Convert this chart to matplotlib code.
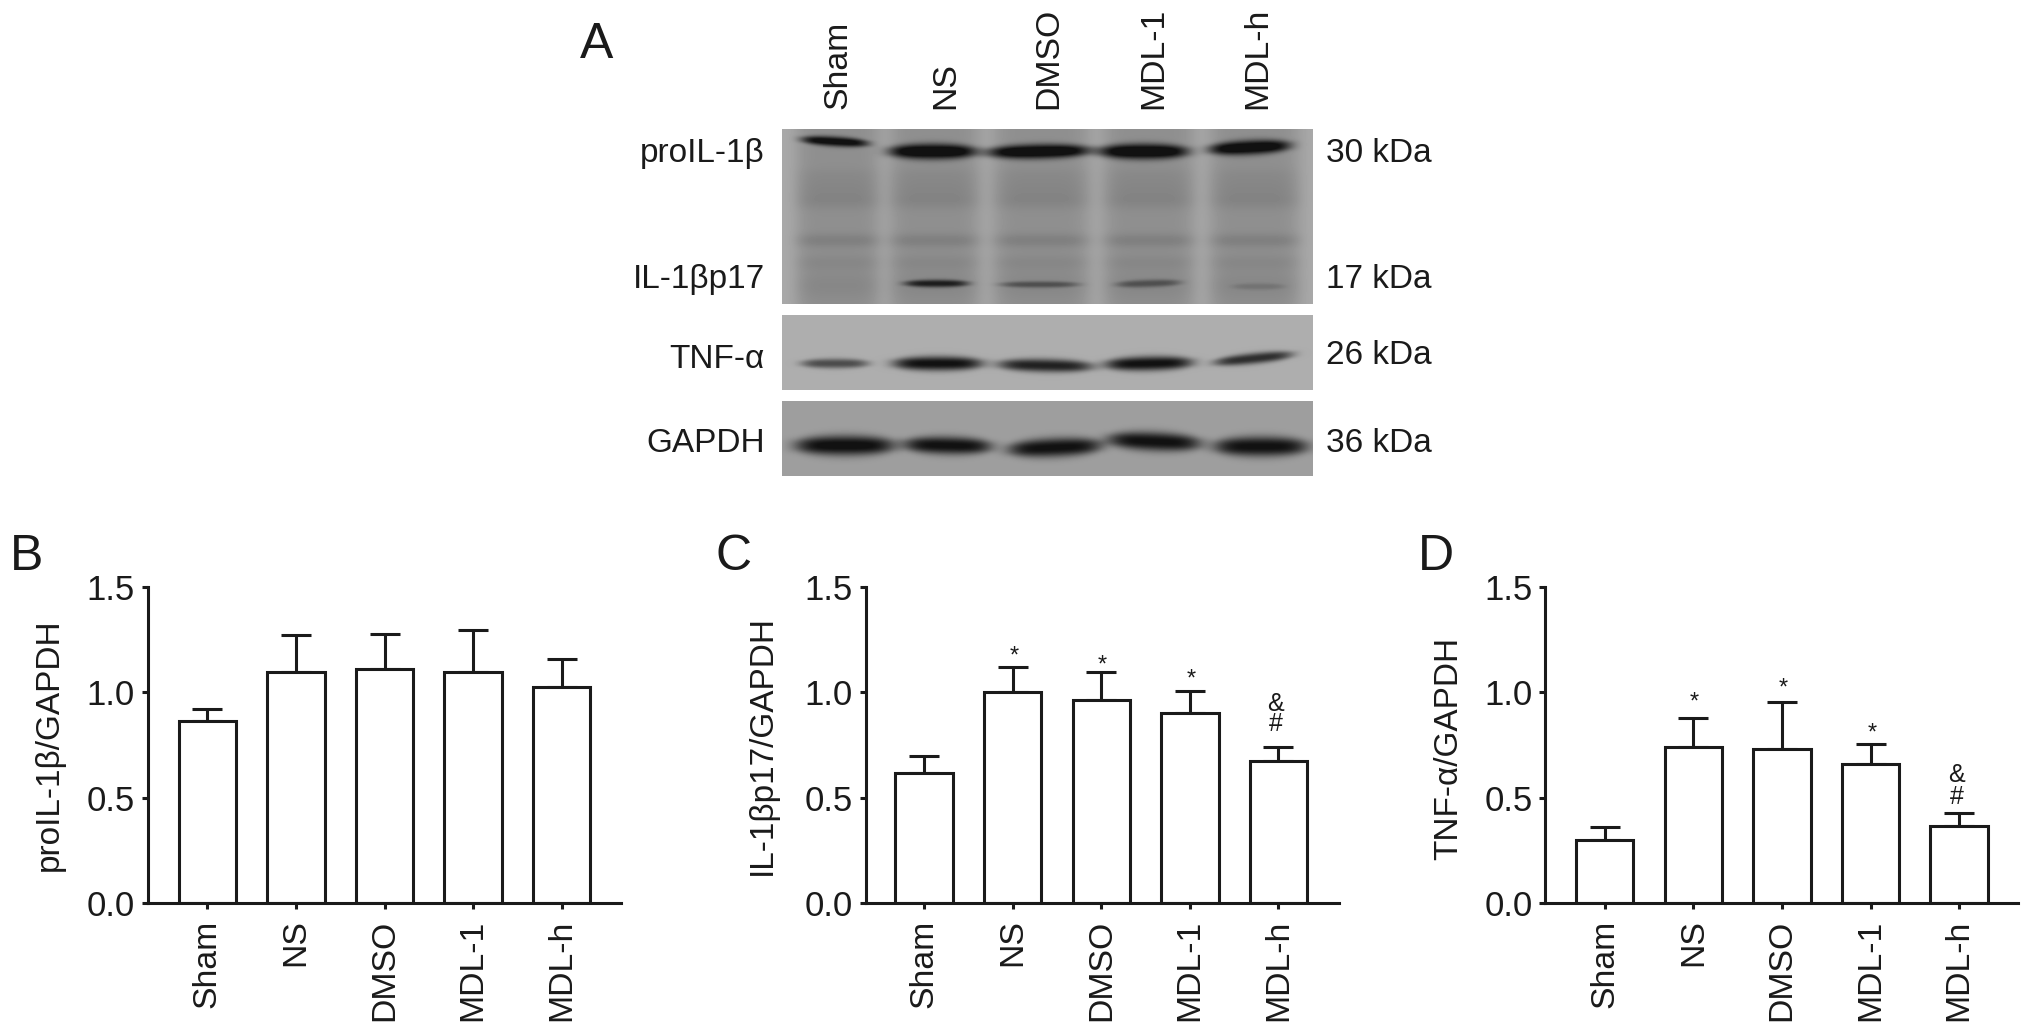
import numpy as np
import matplotlib
matplotlib.use("Agg")
import matplotlib.pyplot as plt

plt.rcParams['font.family'] = ['Liberation Sans', 'DejaVu Sans']
W, H = 2032, 1030
TXT = '#1a1a1a'
LW = 2.2

# ---- data ----
groups = ['Sham', 'NS', 'DMSO', 'MDL-1', 'MDL-h']
yticks = [0.0, 0.5, 1.0, 1.5]

proil_mean = [0.866, 1.095, 1.11, 1.095, 1.027]
proil_upper = [0.923, 1.27, 1.277, 1.295, 1.16]
p17_mean = [0.616, 1.0, 0.963, 0.903, 0.676]
p17_upper = [0.70, 1.12, 1.095, 1.006, 0.742]
tnf_mean = [0.30, 0.739, 0.73, 0.659, 0.368]
tnf_upper = [0.362, 0.878, 0.957, 0.755, 0.426]

p17_stars = [None, 1.208, 1.166, 1.098, None]
tnf_stars = [None, 0.989, 1.057, 0.843, None]
p17_marks = [0.954, 0.858]
tnf_marks = [0.616, 0.513]

blot_left = ['proIL-1β', 'IL-1βp17', 'TNF-α', 'GAPDH']
blot_right = ['30 kDa', '17 kDa', '26 kDa', '36 kDa']

fig = plt.figure(figsize=(W / 100, H / 100), dpi=100, facecolor='white')


def px_axes(x0, y0, x1, y1):
    return fig.add_axes([x0 / W, 1 - y1 / H, (x1 - x0) / W, (y1 - y0) / H])


def ftext(x, y, s, **kw):
    kw.setdefault('color', TXT)
    return fig.text(x / W, 1 - y / H, s, **kw)


# ---- bar panels ----
def bar_panel(spine, end, t0, pitch, means, uppers, ylabel, label_x, label_y, stars=None, marks=None):
    ax = px_axes(spine, 587, end, 903.3)
    x = np.arange(len(groups))
    ax.bar(x, means, width=0.65, facecolor='white', edgecolor=TXT, linewidth=LW, zorder=2)
    for i, (m, u) in enumerate(zip(means, uppers)):
        ax.errorbar(i, m, yerr=[[0], [u - m]], color=TXT, elinewidth=LW, capsize=10.5,
                    capthick=LW, zorder=1.5)
    ax.set_xlim((spine - t0) / pitch, (end - t0) / pitch)
    ax.set_ylim(0, 1.5)
    ax.set_yticks(yticks)
    ax.set_yticklabels([f'{v:.1f}' for v in yticks])
    ax.set_xticks(x)
    ax.set_xticklabels(groups, rotation=90)
    ax.tick_params(axis='y', length=4, width=LW, labelsize=25, pad=5, labelcolor=TXT, color=TXT)
    ax.tick_params(axis='x', length=4.5, width=LW, labelsize=24.3, pad=7, labelcolor=TXT, color=TXT)
    for s in ('top', 'right'):
        ax.spines[s].set_visible(False)
    for s in ('left', 'bottom'):
        ax.spines[s].set_linewidth(LW)
        ax.spines[s].set_color(TXT)
    ax.set_ylabel(ylabel, fontsize=24, color=TXT, va='center')
    ax.yaxis.set_label_coords((label_x - spine) / (end - spine), label_y)
    if stars:
        for i, v in enumerate(stars):
            if v is not None:
                ax.annotate('*', (i, v), xytext=(1, -10), textcoords='offset points',
                            ha='center', va='baseline', fontsize=17, color=TXT)
    if marks:
        for s, v in zip('&#', marks):
            ax.annotate(s, (len(groups) - 1, v), xytext=(-2, -6.5), textcoords='offset points',
                        ha='center', va='baseline', fontsize=18, color=TXT)
    return ax


bar_panel(147.5, 621, 207.3, 88.6, proil_mean, proil_upper, 'proIL-1β/GAPDH', 49, 0.50)
bar_panel(865.6, 1339, 924.1, 88.6, p17_mean, p17_upper, 'IL-1βp17/GAPDH', 762, 0.50, p17_stars, p17_marks)
bar_panel(1545, 2018, 1604.7, 88.6, tnf_mean, tnf_upper, 'TNF-α/GAPDH', 1449, 0.49, tnf_stars, tnf_marks)

for s, x, y in [('A', 580, 58), ('B', 10, 570), ('C', 716, 570), ('D', 1418, 570)]:
    ftext(x, y, s, fontsize=36, ha='left', va='baseline')


# ---- western blot panels (picture, not chart data) ----
LANES = [(795, 880), (888, 980), (992, 1090), (1102, 1195), (1208, 1300)]


def blot(y0, y1, base, lane_dark, smears, bands):
    xs = np.arange(782, 1313)
    ys = np.arange(y0, y1)
    X, Y = np.meshgrid(xs, ys)
    img = np.full(X.shape, base, dtype=float)
    for lx0, lx1 in LANES:
        xc, hw = (lx0 + lx1) / 2, (lx1 - lx0) / 2
        prof = np.exp(-np.abs((X - xc) / hw) ** 6)
        img -= lane_dark * prof
        for sy, ss, sd in smears:
            img -= sd * prof * np.exp(-((Y - sy) / ss) ** 2)
    for bx0, bx1, by, sig, dark, tilt in bands:
        xc, hw = (bx0 + bx1) / 2, (bx1 - bx0) / 2
        yy = by + tilt * (X - xc) / hw
        # bands bow slightly: thicker in the middle of the lane
        sx = sig * (0.75 + 0.35 * np.clip(1 - ((X - xc) / hw) ** 2, 0, 1))
        img -= dark * np.exp(-np.abs((X - xc) / hw) ** 5) * np.exp(-np.abs((Y - yy) / sx) ** 2.4)
    img = np.clip(img, 0.07, 1)
    ax = px_axes(782, y0, 1313, y1)
    ax.imshow(img, cmap='gray', vmin=0, vmax=1, aspect='auto', interpolation='bilinear')
    ax.axis('off')


blot(129, 304, 0.66, 0.10,
     [(175, 8, 0.02), (187, 9, 0.03), (200, 9, 0.04), (240, 7, 0.06), (262, 8, 0.03), (285, 14, 0.03)],
     [(801, 868, 141, 4.5, 0.55, 2), (888, 976, 151, 7, 0.62, 0), (986, 1090, 151, 6.5, 0.62, -1),
      (1098, 1188, 151, 7, 0.62, 0), (1208, 1290, 147, 6.5, 0.6, -2),
      (904, 968, 283, 3.5, 0.42, 0), (1000, 1078, 284, 3, 0.22, 0), (1116, 1180, 283, 3.5, 0.22, -1),
      (1232, 1284, 286, 3, 0.08, 0)])
blot(315, 390, 0.68, 0.0, [],
     [(801, 868, 363, 4.5, 0.38, 0), (893, 982, 363, 6.5, 0.62, 0), (998, 1092, 365, 6, 0.55, 1),
      (1105, 1192, 363, 6.5, 0.62, -1), (1214, 1292, 358, 5, 0.5, -4)])
blot(401, 476, 0.62, 0.0, [],
     [(795, 894, 445, 9, 0.58, 0), (904, 991, 445, 8, 0.56, 1), (1008, 1101, 447, 8.5, 0.56, -2),
      (1108, 1200, 441, 8.5, 0.56, 2), (1214, 1307, 446, 9, 0.56, 0)])

for s, y in zip(blot_left, [162, 288, 368, 452]):
    ftext(765, y, s, fontsize=24, ha='right', va='baseline')
for s, y in zip(blot_right, [162, 288, 364, 452]):
    ftext(1326, y, s, fontsize=24, ha='left', va='baseline')
for s, x in zip(groups, [838, 946, 1049, 1154, 1258]):
    ftext(x, 109, s, fontsize=24.3, rotation=90, ha='center', va='bottom')

fig.savefig('out.png', dpi=100, facecolor='white')
